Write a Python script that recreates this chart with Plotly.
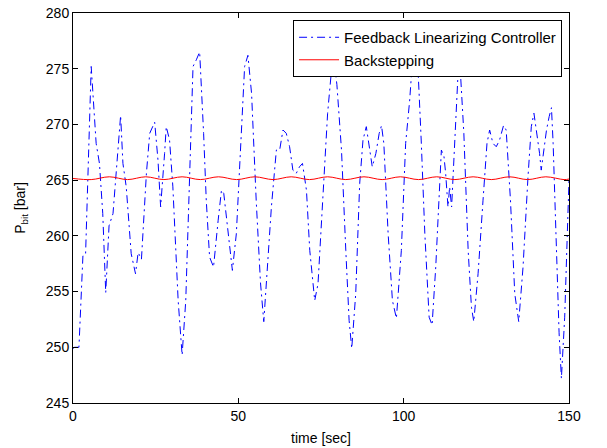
import plotly.graph_objects as go

# Feedback Linearizing Controller (time [sec], P_bit [bar])
fl_t = [0.0, 0.5, 1.8, 3.0, 3.8, 5.5, 7.0, 8.0, 9.0, 9.9, 10.9, 12.1, 14.4, 15.1, 16.1, 17.6, 18.9,
        19.7, 20.7, 22.2, 23.2, 24.7, 25.7, 26.5, 27.7, 28.2, 29.2, 30.2, 31.8, 33.0, 34.1, 35.3,
        36.3, 37.3, 38.3, 39.5, 40.3, 41.3, 42.5, 43.9, 44.9, 45.6, 46.9, 48.2, 49.4, 50.4, 51.9,
        52.9, 54.0, 55.4, 56.7, 57.7, 58.7, 60.0, 61.5, 62.5, 63.5, 64.5, 65.5, 66.5, 67.5, 68.5,
        69.4, 70.6, 71.6, 73.1, 74.1, 75.6, 77.0, 78.0, 79.1, 79.8, 81.2, 82.5, 83.5, 84.3, 85.5,
        86.7, 87.7, 88.7, 89.7, 90.5, 91.6, 92.6, 93.3, 94.0, 95.3, 96.6, 97.8, 99.3, 100.6, 101.8,
        102.6, 104.3, 105.3, 106.4, 107.7, 108.6, 109.7, 110.7, 111.4, 112.2, 112.7, 113.4, 113.9,
        114.5, 115.4, 116.4, 117.1, 118.2, 119.5, 120.5, 121.2, 122.5, 124.0, 125.2, 126.0, 127.0,
        128.0, 129.0, 130.2, 131.0, 132.3, 133.6, 134.8, 136.1, 137.6, 138.6, 139.4, 140.3, 141.1,
        141.6, 142.3, 143.2, 144.0, 144.7, 145.2, 146.0, 147.0, 147.7, 148.7, 150.0]
fl_p = [249.9, 250.0, 250.0, 258.2, 258.3, 275.2, 268.3, 266.5, 262.0, 254.9, 260.9, 262.0, 270.8,
        266.5, 264.4, 258.4, 256.6, 258.5, 257.9, 265.6, 269.2, 270.2, 266.8, 262.6, 267.4, 269.8,
        268.6, 264.4, 254.2, 249.3, 254.2, 265.6, 275.2, 275.8, 276.5, 269.2, 263.2, 258.1, 257.2,
        261.4, 264.1, 263.8, 260.2, 256.9, 260.2, 266.2, 275.2, 276.2, 272.8, 263.2, 255.8, 252.3,
        256.6, 262.6, 267.7, 267.7, 269.5, 269.2, 268.0, 265.9, 265.6, 266.2, 266.5, 264.1, 258.7,
        254.2, 255.7, 263.2, 271.0, 274.3, 275.3, 273.6, 267.7, 258.7, 252.4, 249.9, 254.8, 264.7,
        268.6, 269.8, 268.0, 266.2, 267.4, 269.2, 269.9, 268.3, 260.2, 254.2, 252.6, 258.7, 268.3,
        272.1, 275.5, 275.2, 268.6, 260.2, 252.7, 252.0, 257.2, 263.8, 267.7, 267.1, 265.6, 262.6,
        264.4, 262.6, 267.7, 274.3, 275.0, 269.2, 258.7, 253.6, 252.3, 256.6, 263.2, 268.3, 269.5,
        268.3, 268.0, 268.6, 269.9, 269.5, 263.2, 254.8, 252.3, 257.2, 265.3, 269.8, 271.0, 269.2,
        267.4, 265.9, 267.7, 269.5, 270.7, 271.5, 268.3, 260.2, 251.3, 247.2, 252.7, 265.0]

# Backstepping
bs_t = [0, 5.5, 11, 16.5, 22, 27.5, 33, 38.5, 44, 49.5, 55, 60.5, 66, 71.5, 77, 82.5, 88, 93.5,
        99, 104.5, 110, 115.5, 121, 126.5, 132, 137.5, 143, 148.5, 150]
bs_p = [265.15, 265.05, 265.3, 265.05, 265.3, 265.05, 265.3, 265.05, 265.3, 265.05, 265.3, 265.05,
        265.3, 265.05, 265.3, 265.05, 265.3, 265.05, 265.3, 265.05, 265.3, 265.05, 265.3, 265.05,
        265.3, 265.05, 265.3, 265.05, 265.1]

x_ticks = [0, 50, 100, 150]
y_ticks = [245, 250, 255, 260, 265, 270, 275, 280]

FONT = "Liberation Sans, Arial, Helvetica, sans-serif"

fig = go.Figure()
fig.add_trace(go.Scatter(x=fl_t, y=fl_p, mode="lines", name="Feedback Linearizing Controller",
                         line=dict(color="#0000ff", width=1, dash="8px,4px,2px,4px")))
fig.add_trace(go.Scatter(x=bs_t, y=bs_p, mode="lines", name="Backstepping",
                         line=dict(color="#ff0000", width=1, shape="spline")))

axis_common = dict(showline=True, linecolor="black", linewidth=1, mirror="ticks", ticks="inside",
                   ticklen=5, tickcolor="black", showgrid=False, zeroline=False, automargin=False,
                   tickfont=dict(size=14, color="black", family=FONT))
fig.update_xaxes(range=[0, 150], tickvals=x_ticks, title=dict(text="time [sec]", standoff=10,
                 font=dict(size=14, color="black", family=FONT)), **axis_common)
fig.update_yaxes(range=[245, 280], tickvals=y_ticks, title=dict(text="P<sub>bit</sub> [bar]", standoff=16,
                 font=dict(size=14, color="black", family=FONT)), **axis_common)

fig.update_layout(
    width=607, height=448,
    margin=dict(l=73, r=38, t=13, b=45),
    paper_bgcolor="white", plot_bgcolor="white",
    font=dict(family=FONT, size=14, color="black"),
    showlegend=True,
    legend=dict(x=0.986, y=0.982, xanchor="right", yanchor="top", bgcolor="white",
                bordercolor="black", borderwidth=1, font=dict(size=15, family=FONT),
                tracegroupgap=0, itemwidth=40),
)

fig.write_html("out.html", config={"displayModeBar": False},
               post_script="document.body.style.margin='0';")
